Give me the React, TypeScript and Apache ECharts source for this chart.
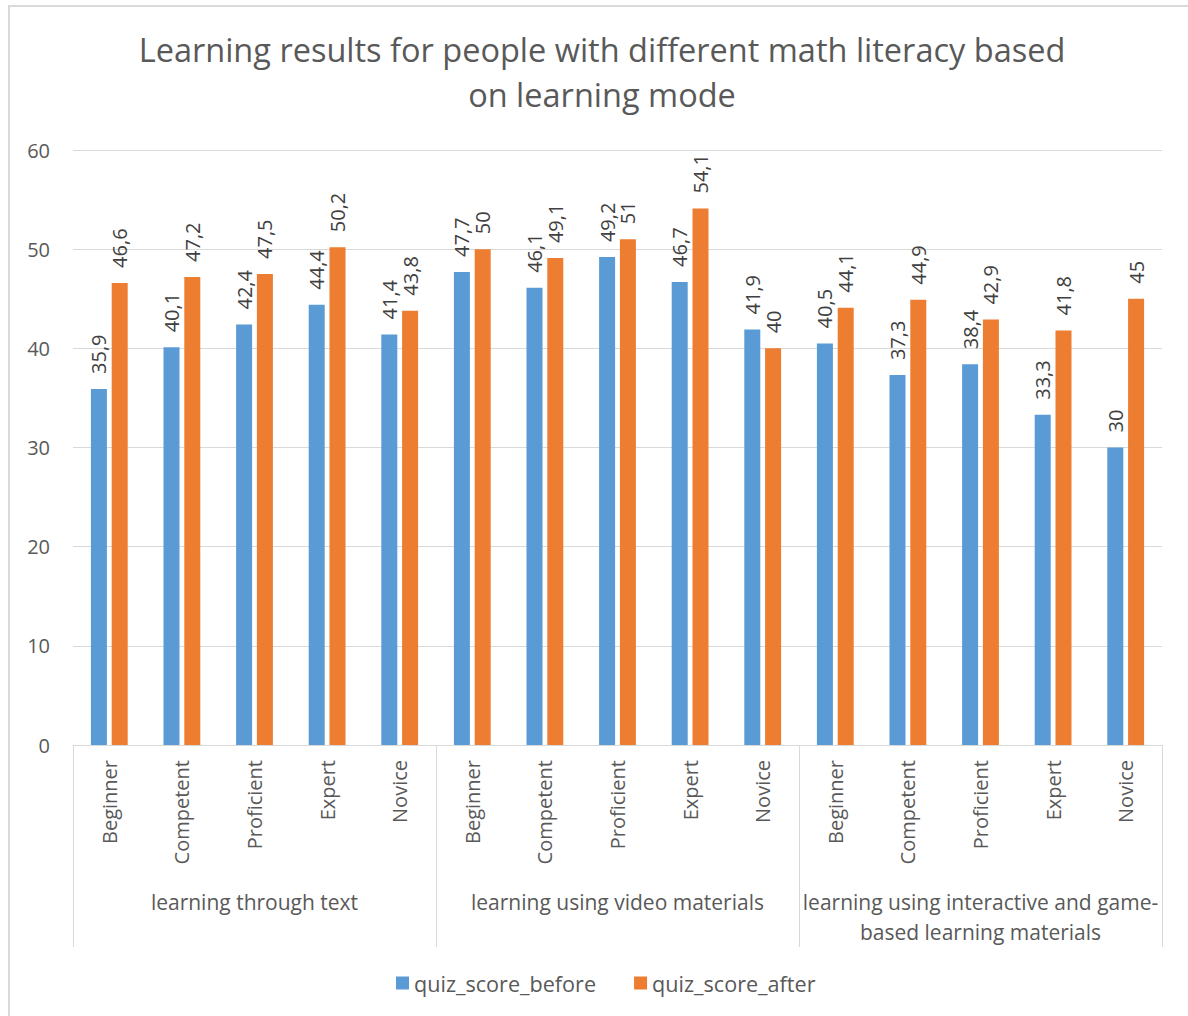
import React, { useEffect, useRef } from "react";
import * as echarts from "echarts";

const levels = ["Beginner", "Competent", "Proficient", "Expert", "Novice"];
const groups = [
  "learning through text",
  "learning using video materials",
  "learning using interactive and game-\nbased learning materials",
];
const categories = [...levels, ...levels, ...levels];
const quizScoreBefore = [35.9, 40.1, 42.4, 44.4, 41.4, 47.7, 46.1, 49.2, 46.7, 41.9, 40.5, 37.3, 38.4, 33.3, 30];
const quizScoreAfter = [46.6, 47.2, 47.5, 50.2, 43.8, 50, 49.1, 51, 54.1, 40, 44.1, 44.9, 42.9, 41.8, 45];
const yTicks = { min: 0, max: 60, interval: 10 };

const FONT = "'Open Sans', sans-serif";

export default function App() {
  const ref = useRef<HTMLDivElement>(null);
  useEffect(() => {
    if (!ref.current) return;
    const chart = echarts.init(ref.current, null, { renderer: "svg" });
    const label = {
      show: true,
      position: "top",
      rotate: 90,
      align: "left",
      verticalAlign: "middle",
      distance: 15,
      color: "#404040",
      fontSize: 20,
      fontFamily: FONT,
      formatter: (p: any) => String(p.value).replace(".", ","),
    };
    chart.setOption({
      animation: false,
      textStyle: { fontFamily: FONT },
      title: {
        text: "Learning results for people with different math literacy based\non learning mode",
        left: 597,
        top: 22,
        textAlign: "center",
        textStyle: { color: "#595959", fontSize: 32.5, fontWeight: "normal", lineHeight: 45, fontFamily: FONT },
      },
      graphic: [
        {
          type: "rect",
          shape: { x: 9, y: 6, width: 1200, height: 1100 },
          style: { fill: "none", stroke: "#d9d9d9", lineWidth: 2 },
          silent: true,
        },
      ],
      legend: {
        left: 391,
        top: 967,
        itemWidth: 13,
        itemHeight: 13,
        itemGap: 38,
        icon: "rect",
        textStyle: { color: "#595959", fontSize: 21.6, fontFamily: FONT },
        data: ["quiz_score_before", "quiz_score_after"],
      },
      grid: { left: 73, right: 26, top: 150, bottom: 271, containLabel: false },
      xAxis: [
        {
          type: "category",
          data: categories,
          axisLine: { lineStyle: { color: "#d9d9d9", width: 1 } },
          axisTick: { show: false },
          axisLabel: { interval: 0, rotate: 90, margin: 15, color: "#595959", fontSize: 20, fontFamily: FONT },
        },
        {
          type: "category",
          data: groups,
          position: "bottom",
          boundaryGap: true,
          axisLine: { show: false },
          axisTick: { show: true, interval: 0, length: 202, lineStyle: { color: "#d9d9d9", width: 1 } },
          axisLabel: { interval: 0, margin: 142, lineHeight: 30, color: "#595959", fontSize: 21, fontFamily: FONT },
        },
      ],
      yAxis: {
        type: "value",
        min: yTicks.min,
        max: yTicks.max,
        interval: yTicks.interval,
        axisLine: { show: false },
        axisTick: { show: false },
        splitLine: { lineStyle: { color: "#d9d9d9", width: 1 } },
        axisLabel: { margin: 23, color: "#595959", fontSize: 20, fontFamily: FONT },
      },
      series: [
        {
          name: "quiz_score_before",
          type: "bar",
          data: quizScoreBefore,
          barWidth: 16,
          barGap: "30%",
          itemStyle: { color: "#5B9BD5" },
          label,
        },
        {
          name: "quiz_score_after",
          type: "bar",
          data: quizScoreAfter,
          barWidth: 16,
          barGap: "30%",
          itemStyle: { color: "#ED7D31" },
          label,
        },
      ],
    });
    return () => chart.dispose();
  }, []);
  return (
    <div
      ref={ref}
      style={{ position: "absolute", left: 0, top: 0, width: 1188, height: 1016, background: "#fff" }}
    />
  );
}
